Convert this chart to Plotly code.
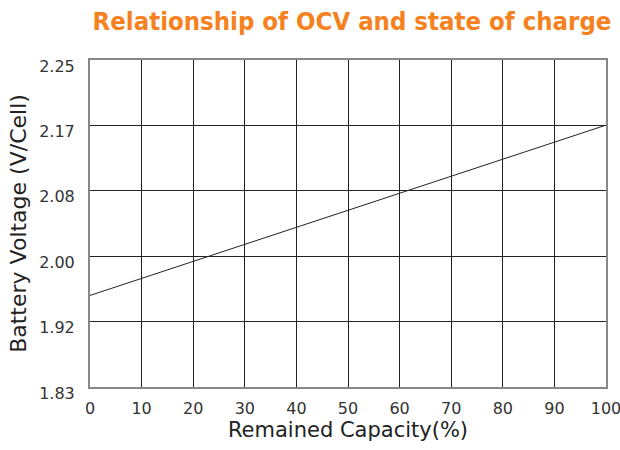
import plotly.graph_objects as go

# Data
capacity = [0, 100]            # Remained Capacity (%)
voltage = [1.950, 2.167]       # Battery Voltage (V/Cell)

x_ticks = [0, 10, 20, 30, 40, 50, 60, 70, 80, 90, 100]
y_tickvals = [11/6, 23/12, 2.0, 25/12, 13/6, 2.25]
y_ticktext = ["1.83", "1.92", "2.00", "2.08", "2.17", "2.25"]

FONT = "DejaVu Sans"

fig = go.Figure()
fig.add_trace(go.Scatter(
    x=capacity, y=voltage, mode="lines",
    line=dict(color="#222222", width=1),
    showlegend=False, hoverinfo="skip",
))

fig.update_layout(
    width=620, height=450,
    margin=dict(l=90, r=14, t=60, b=63, autoexpand=False),
    paper_bgcolor="white", plot_bgcolor="white",
    title=dict(
        text="<b>Relationship of OCV and state of charge</b>",
        font=dict(family="DejaVu Sans Condensed, DejaVu Sans", size=25.5, color="#F5821F"),
        x=352/620, xanchor="center", xref="container",
        y=1 - 21/450, yanchor="middle", yref="container",
    ),
    xaxis=dict(
        range=[0, 100], tickvals=x_ticks,
        showgrid=True, gridcolor="#222222", gridwidth=1,
        showline=True, linecolor="#888888", linewidth=2, mirror=True,
        zeroline=False, ticks="",
        ticklabelstandoff=6, ticklabeloverflow="allow",
        tickfont=dict(family=FONT, size=16, color="#333333"),
        title=dict(text="Remained Capacity(%)", standoff=4,
                   font=dict(family=FONT, size=21, color="#222222")),
    ),
    yaxis=dict(
        range=[11/6, 2.25], tickvals=y_tickvals, ticktext=y_ticktext,
        showgrid=True, gridcolor="#222222", gridwidth=1,
        showline=True, linecolor="#888888", linewidth=2, mirror=True,
        zeroline=False, ticks="",
        ticklabelshift=6, ticklabelstandoff=10, ticklabeloverflow="allow",
        tickfont=dict(family=FONT, size=16, color="#333333"),
        title=dict(text="Battery Voltage (V/Cell)", standoff=6,
                   font=dict(family=FONT, size=22, color="#222222")),
    ),
)

fig.write_html("out.html", config={"displayModeBar": False},
               post_script="document.body.style.margin='0';")
